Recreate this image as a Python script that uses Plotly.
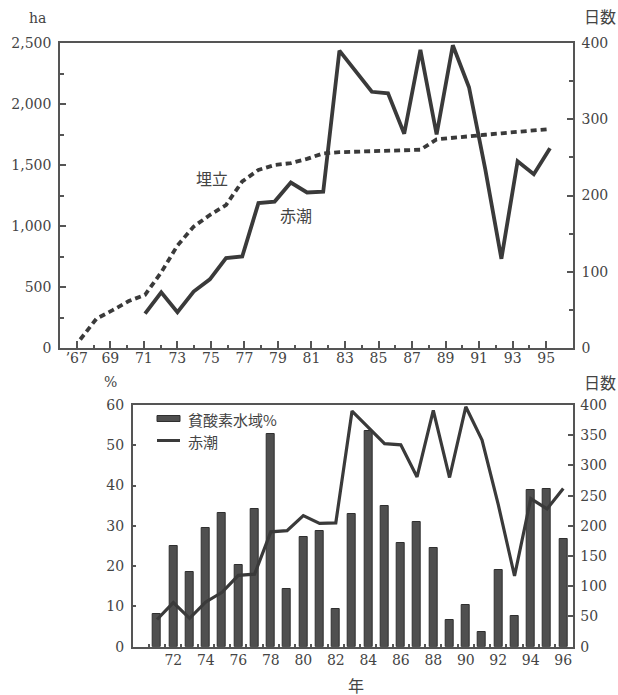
import plotly.graph_objects as go

# ---- data ----
years_fill = list(range(1967, 1997))
fill_ha = [70, 240, 310, 385, 436, 620, 840, 995, 1090, 1172, 1365, 1460, 1500, 1515,
           1550, 1595, 1605, 1610, 1612, 1615, 1618, 1625, 1710, 1725, 1735, 1748,
           1760, 1772, 1785, 1795]

years_rt = list(range(1971, 1997))
redtide_days = [45, 73, 47, 74, 90, 118, 120, 190, 192, 217, 204, 205, 390, 363, 336,
                334, 281, 391, 280, 397, 342, 235, 117, 245, 228, 262]

years_hyp = list(range(1971, 1997))
hypoxia_pct = [8.0, 25.1, 18.6, 29.4, 33.1, 20.3, 34.1, 52.8, 14.4, 27.2, 28.8, 9.4,
               33.0, 53.6, 34.9, 25.8, 30.9, 24.6, 6.6, 10.3, 3.7, 19.0, 7.7, 38.8,
               39.2, 26.8]

top_xticks = list(range(67, 96, 2))
top_xticklabels = ["\u201967"] + [str(v) for v in top_xticks[1:]]
bot_xticks = list(range(72, 97, 2))

yf = [y - 1900 for y in years_fill]
yr = [y - 1900 for y in years_rt]
yh = [y - 1900 for y in years_hyp]

W, H = 618, 695
def px(x): return x / W
def py(y): return 1 - y / H

INK = "#3a3a3a"
TXT = "#444444"
AX = "#555555"
BAR = "#4f4f4f"
SERIF = "DejaVu Serif"
JP = "Noto Sans CJK JP"

fig = go.Figure()

# top chart (data on hidden axis x, labelled axis x3 overlays it)
fig.add_trace(go.Scatter(x=yf, y=fill_ha, xaxis="x", yaxis="y", mode="lines",
                         line=dict(color=INK, width=3.8, dash="6px,4px"),
                         name="埋立", showlegend=False))
fig.add_trace(go.Scatter(x=yr, y=redtide_days, xaxis="x", yaxis="y2", mode="lines",
                         line=dict(color=INK, width=3.8),
                         name="赤潮", showlegend=False))
# anchor trace so the labelled year axis is drawn
fig.add_trace(go.Scatter(x=[top_xticks[0]], y=[None], xaxis="x3", yaxis="y",
                         mode="lines", showlegend=False, hoverinfo="skip"))

# bottom chart
fig.add_trace(go.Bar(x=yh, y=hypoxia_pct, xaxis="x2", yaxis="y3", width=0.5,
                     marker=dict(color=BAR, line=dict(color="#2f2f2f", width=1)),
                     name="貧酸素水域%", showlegend=False))
fig.add_trace(go.Scatter(x=yr, y=redtide_days, xaxis="x2", yaxis="y4", mode="lines",
                         line=dict(color=INK, width=3.2), name="赤潮", showlegend=False))

tickfont = dict(family=SERIF, size=14, color=TXT)

top_dom_x = [px(60), px(573)]
top_dom_y = [py(348), py(43)]
bot_dom_x = [px(132.7), px(572.7)]
bot_dom_y = [py(646.7), py(405)]

fig.update_layout(
    template="none",
    width=W, height=H, margin=dict(l=0, r=0, t=0, b=0, pad=0, autoexpand=False),
    paper_bgcolor="white", plot_bgcolor="white",
    bargap=0, showlegend=False,
    xaxis=dict(domain=top_dom_x, anchor="y", range=[65.75, 97.42],
               showticklabels=False, ticks="",
               showline=True, linecolor=AX, linewidth=1.5, mirror=True,
               showgrid=False, zeroline=False),
    xaxis3=dict(overlaying="x", anchor="y", range=[66, 96.6],
                tickvals=top_xticks, ticktext=top_xticklabels,
                ticks="inside", ticklen=7, tickwidth=1.5, tickcolor=AX,
                minor=dict(tickvals=list(range(68, 96, 2)), ticks="inside", ticklen=3,
                           tickwidth=1.5, tickcolor=AX),
                showline=False, showgrid=False, zeroline=False, tickfont=tickfont),
    yaxis=dict(domain=top_dom_y, anchor="x", range=[0, 2500],
               tickvals=[0, 500, 1000, 1500, 2000, 2500],
               ticktext=["0", "500", "1,000", "1,500", "2,000", "2,500"],
               ticks="inside", ticklen=6, tickwidth=1.5, tickcolor=AX,
               minor=dict(tickvals=[250, 750, 1250, 1750, 2250], ticks="inside",
                          ticklen=4, tickwidth=1.5, tickcolor=AX),
               showline=True, linecolor=AX, linewidth=1.5,
               showgrid=False, zeroline=False, tickfont=tickfont, ticklabelstandoff=4),
    yaxis2=dict(overlaying="y", anchor="x", side="right", range=[0, 400],
                tickvals=[0, 100, 200, 300, 400],
                ticks="inside", ticklen=6, tickwidth=1.5, tickcolor=AX,
                minor=dict(tickvals=[50, 150, 250, 350], ticks="inside", ticklen=4,
                           tickwidth=1.5, tickcolor=AX),
                showline=True, linecolor=AX, linewidth=1.5,
                showgrid=False, zeroline=False, tickfont=tickfont, ticklabelstandoff=4),
    xaxis2=dict(domain=bot_dom_x, anchor="y3", range=[69.5, 96.58],
                tickvals=bot_xticks, ticks="",
                minor=dict(tickvals=[v + 0.5 for v in range(70, 96)], ticks="inside",
                           ticklen=3, tickwidth=1.5, tickcolor=AX),
                showline=True, linecolor=AX, linewidth=1.5, mirror=True,
                showgrid=False, zeroline=False, tickfont=tickfont),
    yaxis3=dict(domain=bot_dom_y, anchor="x2", range=[0, 60], dtick=10,
                ticks="inside", ticklen=4, tickwidth=1.5, tickcolor=AX,
                showline=True, linecolor=AX, linewidth=1.5,
                showgrid=False, zeroline=False, tickfont=tickfont, ticklabelstandoff=4),
    yaxis4=dict(overlaying="y3", anchor="x2", side="right", range=[0, 400], dtick=50,
                ticks="inside", ticklen=5, tickwidth=1.5, tickcolor=AX,
                showline=True, linecolor=AX, linewidth=1.5,
                showgrid=False, zeroline=False, tickfont=tickfont, ticklabelstandoff=3),
)

def ann(text, x, y, font, size=16, xanchor="center", height=None):
    fig.add_annotation(text=text, x=px(x), y=py(y), xref="paper", yref="paper",
                       showarrow=False, xanchor=xanchor, yanchor="middle",
                       height=height, font=dict(family=font, size=size, color=TXT))

ann("ha", 37, 18, SERIF, 14)
ann("日数", 600, 16, JP, 16, height=19)
ann("埋立", 212, 178, JP, 16)
ann("赤潮", 296, 215, JP, 16)
ann("%", 110, 382, SERIF, 14)
ann("日数", 600, 382, JP, 16, height=19)
ann("年", 356, 684, JP, 16, height=19)

# legend (bottom chart)
fig.add_shape(type="rect", xref="paper", yref="paper",
              x0=px(157), x1=px(180), y0=py(421.5), y1=py(415.5),
              fillcolor=BAR, line=dict(color="#2f2f2f", width=1))
fig.add_shape(type="line", xref="paper", yref="paper",
              x0=px(157), x1=px(180), y0=py(440.5), y1=py(440.5),
              line=dict(color=INK, width=3))
ann("貧酸素水域%", 186, 418.5, JP, 15, "left", height=18)
ann("赤潮", 186, 440.5, JP, 15, "left", height=18)

fig.write_html("out.html",
               config={"displayModeBar": False},
               post_script="document.body.style.margin='0px';"
                           "document.documentElement.style.margin='0px';")
